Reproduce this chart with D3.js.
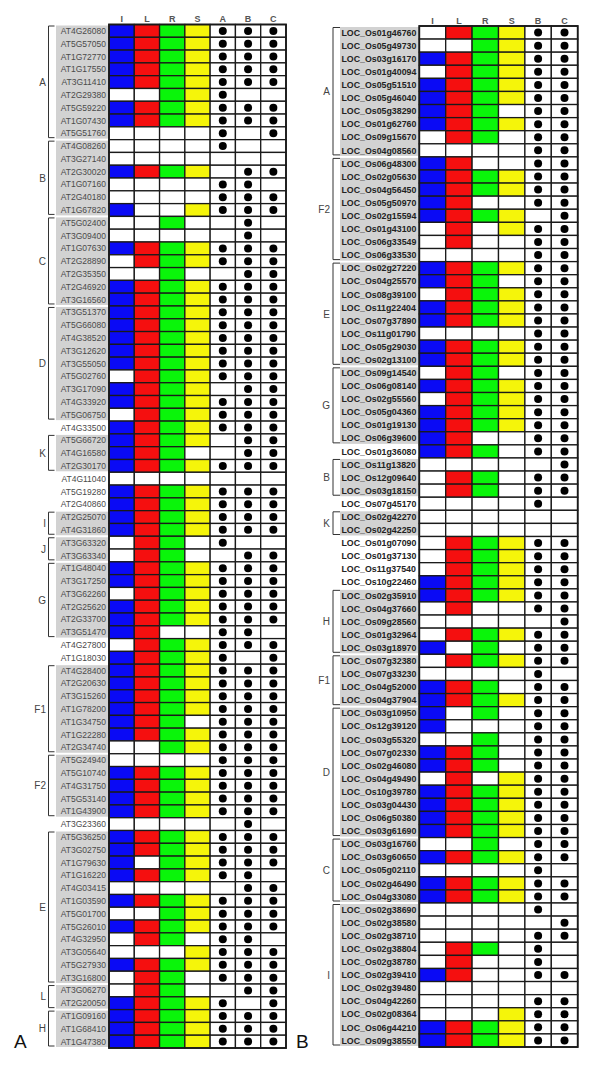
<!DOCTYPE html>
<html>
<head>
<meta charset="utf-8">
<script src="https://cdn.jsdelivr.net/npm/d3@7"></script>
<style>
  body { margin: 0; background: #fff; }
  svg { display: block; font-family: "Liberation Sans", Arial, sans-serif; }
</style>
</head>
<body>
<svg id="chart" width="600" height="1068"></svg>
<script>
// Two gene tables: coloured presence cells (I L R S) + dot columns

// ---- Panel A (Arabidopsis) ----
const leftCols = ["I", "L", "R", "S", "A", "B", "C"];

const leftGenes = [
  "AT4G26080", "AT5G57050", "AT1G72770", "AT1G17550", "AT3G11410", "AT2G29380", "AT5G59220", "AT1G07430", "AT5G51760",
  "AT4G08260", "AT3G27140", "AT2G30020", "AT1G07160", "AT2G40180", "AT1G67820",
  "AT5G02400", "AT3G09400", "AT1G07630", "AT2G28890", "AT2G35350", "AT2G46920", "AT3G16560",
  "AT3G51370", "AT5G66080", "AT4G38520", "AT3G12620", "AT3G55050", "AT5G02760", "AT3G17090", "AT4G33920", "AT5G06750",
  "AT4G33500",
  "AT5G66720", "AT4G16580", "AT2G30170",
  "AT4G11040", "AT5G19280", "AT2G40860",
  "AT2G25070", "AT4G31860",
  "AT3G63320", "AT3G63340",
  "AT1G48040", "AT3G17250", "AT3G62260", "AT2G25620", "AT2G33700", "AT3G51470",
  "AT4G27800", "AT1G18030",
  "AT4G28400", "AT2G20630", "AT3G15260", "AT1G78200", "AT1G34750", "AT1G22280", "AT2G34740",
  "AT5G24940", "AT5G10740", "AT4G31750", "AT5G53140", "AT1G43900",
  "AT3G23360",
  "AT5G36250", "AT3G02750", "AT1G79630", "AT1G16220", "AT4G03415", "AT1G03590", "AT5G01700", "AT5G26010",
  "AT4G32950", "AT3G05640", "AT5G27930", "AT3G16800",
  "AT3G06270", "AT2G20050",
  "AT1G09160", "AT1G68410", "AT1G47380",
];

// one char per column (I L R S A B C), 1 = filled / dot
const leftMarks = [
  "1111111", "1111111", "1111111", "1111111", "1111111", "0011100", "1111111", "1111111", "0000101",
  "0000100", "0000000", "1111011", "0000110", "0000111", "1001111",
  "0010010", "0000010", "1111111", "0111111", "0010011", "1111111", "1111111",
  "1111111", "1111111", "1111111", "1111111", "1111111", "0111111", "1111011", "1111111", "0111111",
  "1111111",
  "1111011", "1110011", "1111111",
  "0000000", "1111111", "1111111",
  "1111111", "1111111",
  "0110100", "0110011",
  "1111111", "1111111", "0111111", "1111111", "1111111", "1100110",
  "0111111", "1111101",
  "1111111", "1111111", "1111111", "1111111", "1110111", "1111111", "0011111",
  "0000111", "1111111", "1111111", "1111111", "1111111",
  "0000010",
  "1111111", "1111111", "1011111", "1111110", "0000011", "1111111", "0011111", "1111111",
  "0110110", "0001111", "1111111", "0110111",
  "0110011", "1111101",
  "1111111", "1111111", "1111111",
];

// consecutive runs of rows: [group label, row count]; null = no bracket
const leftGroups = [
  ["A", 9], ["B", 6], ["C", 7], ["D", 9], [null, 1], ["K", 3], [null, 3], ["I", 2], ["J", 2],
  ["G", 6], [null, 2], ["F1", 7], ["F2", 5], [null, 1], ["E", 12], ["L", 2], ["H", 3],
];

// ---- Panel B (rice) ----
const rightCols = ["I", "L", "R", "S", "B", "C"];

const rightGenes = [
  "LOC_Os01g46760", "LOC_Os05g49730", "LOC_Os03g16170", "LOC_Os01g40094", "LOC_Os05g51510",
  "LOC_Os05g46040", "LOC_Os05g38290", "LOC_Os01g62760", "LOC_Os09g15670", "LOC_Os04g08560",
  "LOC_Os06g48300", "LOC_Os02g05630", "LOC_Os04g56450", "LOC_Os05g50970", "LOC_Os02g15594",
  "LOC_Os01g43100", "LOC_Os06g33549", "LOC_Os06g33530",
  "LOC_Os02g27220", "LOC_Os04g25570", "LOC_Os08g39100", "LOC_Os11g22404", "LOC_Os07g37890",
  "LOC_Os11g01790", "LOC_Os05g29030", "LOC_Os02g13100",
  "LOC_Os09g14540", "LOC_Os06g08140", "LOC_Os02g55560", "LOC_Os05g04360", "LOC_Os01g19130", "LOC_Os06g39600",
  "LOC_Os01g36080",
  "LOC_Os11g13820", "LOC_Os12g09640", "LOC_Os03g18150",
  "LOC_Os07g45170",
  "LOC_Os02g42270", "LOC_Os02g42250",
  "LOC_Os01g07090", "LOC_Os01g37130", "LOC_Os11g37540", "LOC_Os10g22460",
  "LOC_Os02g35910", "LOC_Os04g37660", "LOC_Os09g28560", "LOC_Os01g32964", "LOC_Os03g18970",
  "LOC_Os07g32380", "LOC_Os07g33230", "LOC_Os04g52000", "LOC_Os04g37904",
  "LOC_Os03g10950", "LOC_Os12g39120", "LOC_Os03g55320", "LOC_Os07g02330", "LOC_Os02g46080",
  "LOC_Os04g49490", "LOC_Os10g39780", "LOC_Os03g04430", "LOC_Os06g50380", "LOC_Os03g61690",
  "LOC_Os03g16760", "LOC_Os03g60650", "LOC_Os05g02110", "LOC_Os02g46490", "LOC_Os04g33080",
  "LOC_Os02g38690", "LOC_Os02g38580", "LOC_Os02g38710", "LOC_Os02g38804", "LOC_Os02g38780",
  "LOC_Os02g39410", "LOC_Os02g39480", "LOC_Os04g42260", "LOC_Os02g08364", "LOC_Os06g44210", "LOC_Os09g38550",
];

// one char per column (I L R S B C)
const rightMarks = [
  "011111", "001111", "111111", "011111", "111111",
  "111111", "111011", "111111", "011011", "000011",
  "110011", "111111", "111111", "110011", "111101",
  "010111", "010011", "000011",
  "111111", "111011", "011111", "111111", "111111",
  "000011", "111111", "111111",
  "011011", "111111", "011111", "111111", "111111", "110011",
  "111011",
  "000001", "011011", "011011",
  "000010",
  "000000", "000000",
  "011111", "011111", "011111", "111111",
  "111111", "010011", "000001", "011111", "101011",
  "011111", "000010", "111011", "111111",
  "101011", "100011", "001011", "111011", "111011",
  "010111", "111111", "111111", "111111", "111111",
  "001011", "111111", "000010", "111111", "111111",
  "000010", "000001", "000011", "011010", "010010",
  "110011", "000000", "000011", "000111", "111111", "111111",
];

const rightGroups = [
  ["A", 10], ["F2", 8], ["E", 8], ["G", 6], [null, 1], ["B", 3], [null, 1], ["K", 2],
  [null, 4], ["H", 5], ["F1", 4], ["D", 10], ["C", 5], ["I", 11],
];

// Colours for the four presence columns
const fillColors = { I: "#0a0af5", L: "#f50f0f", R: "#0af50a", S: "#f5f50a" };
const dotCols = ["A", "B", "C"];

const svg = d3.select("#chart");

const panels = [
  {
    genes: leftGenes, marks: leftMarks, groups: leftGroups, cols: leftCols,
    tableX: [109, 286], tableY: [24.5, 1048], labelBoxX: 56,
    labelX: 106, labelAnchor: "end", labelSize: 8.5, labelWeight: "normal", labelColor: "#4a4a4a",
    bracketX: 48.5, bracketTick: 6, groupLabelX: 46, headerY: 21.5,
    panelLetter: "A", letterX: 14,
  },
  {
    genes: rightGenes, marks: rightMarks, groups: rightGroups, cols: rightCols,
    tableX: [419.3, 577.7], tableY: [26, 1047], labelBoxX: 340,
    labelX: 341.5, labelAnchor: "start", labelSize: 8.8, labelWeight: "bold", labelColor: "#222",
    bracketX: 333, bracketTick: 7, groupLabelX: 330, headerY: 23.5,
    panelLetter: "B", letterX: 296,
  },
];

panels.forEach(drawPanel);

function drawPanel(p) {
  const g = svg.append("g");

  const y = d3.scaleBand().domain(p.genes).range(p.tableY);
  const x = d3.scaleBand().domain(p.cols).range(p.tableX);

  // Group runs -> start/end rows
  let idx = 0;
  const runs = p.groups.map(([label, n]) => {
    const run = { label, first: p.genes[idx], last: p.genes[idx + n - 1] };
    idx += n;
    return run;
  });

  // Grey label background for bracketed groups
  g.selectAll(".labelbg")
    .data(runs.filter((r) => r.label))
    .join("rect")
    .attr("class", "labelbg")
    .attr("x", p.labelBoxX)
    .attr("y", (r) => y(r.first) + 1)
    .attr("width", p.tableX[0] - p.labelBoxX)
    .attr("height", (r) => y(r.last) + y.bandwidth() - y(r.first) - 2)
    .attr("fill", "#d2d2d2");

  // Brackets
  const brackets = g.selectAll(".bracket")
    .data(runs.filter((r) => r.label))
    .join("g")
    .attr("class", "bracket");

  brackets.append("path")
    .attr("d", (r) => {
      const y0 = y(r.first) + 1.5;
      const y1 = y(r.last) + y.bandwidth() - 2;
      const bx = p.bracketX, tx = p.bracketX + p.bracketTick;
      return `M${tx},${y0}H${bx}V${y1}H${tx}`;
    })
    .attr("fill", "none")
    .attr("stroke", "#333")
    .attr("stroke-width", 1);

  brackets.append("text")
    .attr("x", p.groupLabelX)
    .attr("y", (r) => (y(r.first) + y(r.last) + y.bandwidth()) / 2)
    .attr("dy", "0.36em")
    .attr("text-anchor", "end")
    .attr("font-size", 10)
    .attr("fill", "#444")
    .text((r) => r.label);

  // Gene labels
  g.selectAll(".gene")
    .data(p.genes)
    .join("text")
    .attr("class", "gene")
    .attr("x", p.labelX)
    .attr("y", (d) => y(d) + y.bandwidth() / 2)
    .attr("dy", "0.36em")
    .attr("text-anchor", p.labelAnchor)
    .attr("font-size", p.labelSize)
    .attr("font-weight", p.labelWeight)
    .attr("fill", p.labelColor)
    .text((d) => d);

  // Cells
  const cells = [];
  p.genes.forEach((gene, i) => {
    p.cols.forEach((col, j) => {
      cells.push({ gene, col, on: p.marks[i][j] === "1" });
    });
  });

  g.selectAll(".cell")
    .data(cells)
    .join("rect")
    .attr("class", "cell")
    .attr("x", (d) => x(d.col))
    .attr("y", (d) => y(d.gene))
    .attr("width", x.bandwidth())
    .attr("height", y.bandwidth())
    .attr("fill", (d) => (d.on && fillColors[d.col] ? fillColors[d.col] : "#fff"))
    .attr("stroke", "#1a1a1a")
    .attr("stroke-width", 1.3);

  g.selectAll(".dot")
    .data(cells.filter((d) => d.on && dotCols.includes(d.col)))
    .join("circle")
    .attr("class", "dot")
    .attr("cx", (d) => x(d.col) + x.bandwidth() / 2)
    .attr("cy", (d) => y(d.gene) + y.bandwidth() / 2)
    .attr("r", 4)
    .attr("fill", "#000");

  // Outer frame
  g.append("rect")
    .attr("x", p.tableX[0])
    .attr("y", p.tableY[0])
    .attr("width", p.tableX[1] - p.tableX[0])
    .attr("height", p.tableY[1] - p.tableY[0])
    .attr("fill", "none")
    .attr("stroke", "#1a1a1a")
    .attr("stroke-width", 1.8);

  // Column headers
  g.selectAll(".colhead")
    .data(p.cols)
    .join("text")
    .attr("class", "colhead")
    .attr("x", (d) => x(d) + x.bandwidth() / 2)
    .attr("y", p.headerY)
    .attr("text-anchor", "middle")
    .attr("font-size", 9)
    .attr("font-weight", "bold")
    .attr("fill", "#555")
    .text((d) => d);

  // Panel letter
  g.append("text")
    .attr("x", p.letterX)
    .attr("y", 1048)
    .attr("font-size", 19)
    .attr("fill", "#111")
    .text(p.panelLetter);
}
</script>
</body>
</html>
